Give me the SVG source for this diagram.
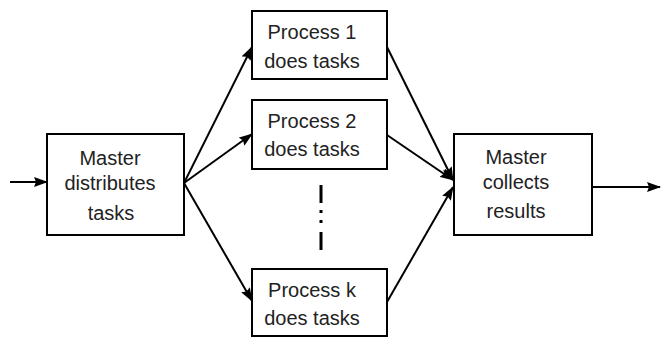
<svg xmlns="http://www.w3.org/2000/svg" width="663" height="337" viewBox="0 0 663 337">
<defs>
<marker id="arr" markerWidth="14" markerHeight="10" refX="13" refY="5" orient="auto" markerUnits="userSpaceOnUse">
<path d="M0,0 L14,5 L0,10 L2,5 z" fill="#000"/>
</marker>
</defs>
<style>
.box{fill:#fff;stroke:#000;stroke-width:2}
.t{font-family:"Liberation Sans",Arial,sans-serif;font-size:20px;fill:#222;text-anchor:middle}
.c{stroke:#000;stroke-width:2;fill:none}
.a{marker-end:url(#arr)}
</style>
<rect width="663" height="337" fill="#fff"/>
<g id="connectors">
<line class="c a" x1="10" y1="182" x2="47" y2="182"/>
<line class="c a" x1="184" y1="183" x2="252" y2="47"/>
<line class="c a" x1="184" y1="183" x2="252" y2="134"/>
<line class="c a" x1="184" y1="183" x2="252" y2="301"/>
<line class="c a" x1="387" y1="47" x2="453" y2="180"/>
<line class="c a" x1="387" y1="135" x2="453" y2="180"/>
<line class="c a" x1="387" y1="302" x2="453" y2="187"/>
<line class="c a" x1="592" y1="187" x2="660" y2="187"/>
<g stroke="#000" stroke-width="3">
<line x1="321" y1="185" x2="321" y2="203"/>
<line x1="321" y1="210" x2="321" y2="213"/>
<line x1="321" y1="220" x2="321" y2="223"/>
<line x1="321" y1="232" x2="321" y2="250"/>
</g>
</g>
<g id="master-distributes">
<rect class="box" x="47" y="134" width="137" height="101"/>
<text class="t" x="110" y="165">Master</text>
<text class="t" x="110" y="190">distributes</text>
<text class="t" x="111" y="220">tasks</text>
</g>
<g id="process-1">
<rect class="box" x="252" y="11" width="135" height="68"/>
<text class="t" x="312" y="39">Process 1</text>
<text class="t" x="312" y="68">does tasks</text>
</g>
<g id="process-2">
<rect class="box" x="252" y="100" width="135" height="69"/>
<text class="t" x="312" y="128">Process 2</text>
<text class="t" x="312" y="156">does tasks</text>
</g>
<g id="process-k">
<rect class="box" x="252" y="269" width="135" height="67"/>
<text class="t" x="312" y="297">Process k</text>
<text class="t" x="312" y="325">does tasks</text>
</g>
<g id="master-collects">
<rect class="box" x="454" y="134" width="138" height="101"/>
<text class="t" x="516" y="164">Master</text>
<text class="t" x="516" y="189">collects</text>
<text class="t" x="516" y="218">results</text>
</g>
</svg>
